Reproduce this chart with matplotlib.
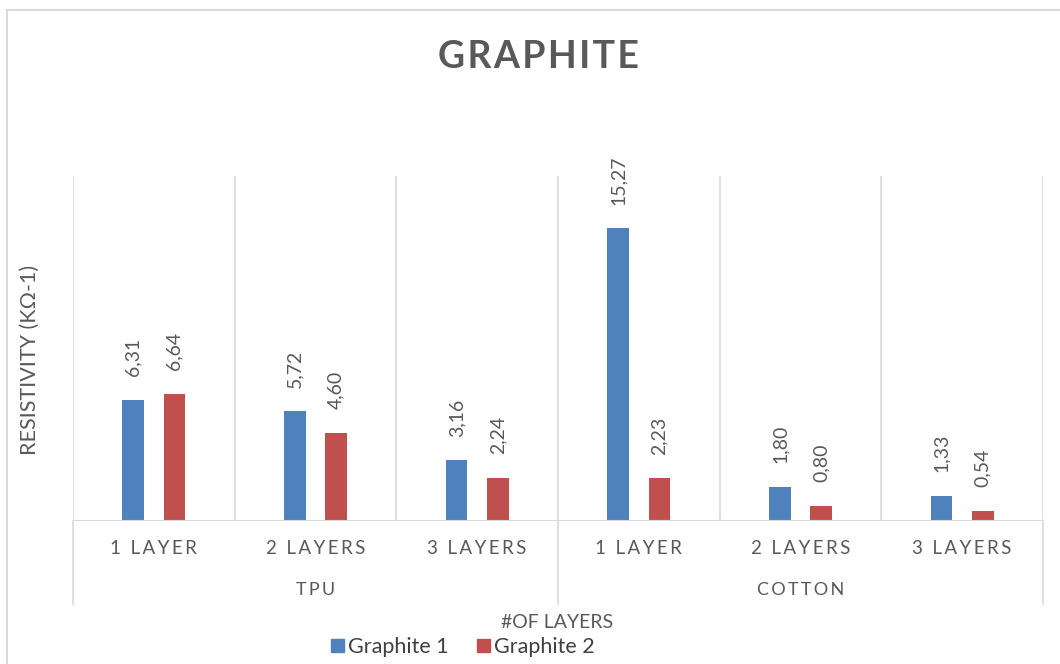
import matplotlib.pyplot as plt
import matplotlib.transforms as mtransforms
from matplotlib.lines import Line2D
from matplotlib.patches import Patch, Rectangle

plt.rcParams['font.family'] = ['Lato', 'DejaVu Sans']

# data
layers = ['1 LAYER', '2 LAYERS', '3 LAYERS', '1 LAYER', '2 LAYERS', '3 LAYERS']
groups = ['TPU', 'COTTON']
graphite1 = [6.31, 5.72, 3.16, 15.27, 1.80, 1.33]
graphite2 = [6.64, 4.60, 2.24, 2.23, 0.80, 0.54]
series_names = ['Graphite 1', 'Graphite 2']

BLUE = '#4F81BD'
RED = '#C0504D'
GRID = '#D9D9D9'
TXT = '#595959'
W, H = 1060, 664


def spaced(s, sep='\u200a'):
    return sep.join(s)


def fy(py):
    return 1 - py / H


fig = plt.figure(figsize=(W / 100, H / 100), dpi=100)
ax = fig.add_axes([73 / W, fy(521), (1043 - 73) / W, (521 - 176) / H])

x = [i + 0.5 for i in range(len(layers))]
bw = 0.134
off = 0.127
b1 = ax.bar([v - off for v in x], graphite1, bw, color=BLUE, label=series_names[0])
b2 = ax.bar([v + off for v in x], graphite2, bw, color=RED, label=series_names[1])

for bars, vals in ((b1, graphite1), (b2, graphite2)):
    for b, v in zip(bars, vals):
        ax.annotate(f'{v:.2f}'.replace('.', ','), (b.get_x() + b.get_width() / 2, v),
                    xytext=(0, 17), textcoords='offset points', rotation=90,
                    ha='center', va='bottom', fontsize=14, color=TXT)

ax.set_xlim(0, len(layers))
ax.set_ylim(0, 18)
ax.set_xticks([])
ax.set_yticks([])
for s in ax.spines.values():
    s.set_visible(False)

# vertical grid between categories + baseline
for i in range(len(layers) + 1):
    ax.axvline(i, color=GRID, lw=1.2, zorder=0)
ax.axhline(0, color=GRID, lw=1.5, zorder=3)

# two-level category axis below the plot
tr = mtransforms.blended_transform_factory(ax.transData, fig.transFigure)
for xi, lab in zip(x, layers):
    fig.text(xi, fy(548), spaced(lab, '\u2009'), transform=tr, ha='center', va='center',
             fontsize=13.5, color=TXT)
for gi, g in enumerate(groups):
    fig.text(gi * 3 + 1.5, fy(590), spaced(g, '\u2009'), transform=tr, ha='center',
             va='center', fontsize=13, color=TXT)
for xi in (0, 3, 6):
    fig.add_artist(Line2D([xi, xi], [fy(521), fy(604)], transform=tr, color=GRID, lw=1.2))

fig.text(538 / W, fy(57), spaced('GRAPHITE'), ha='center', va='center',
         fontsize=27, fontweight='bold', color=TXT)
fig.text(30 / W, fy(360), 'RESISTIVITY (KΩ-1)', rotation=90, ha='center', va='center',
         fontsize=15.5, color=TXT)
fig.text(557 / W, fy(623), '#OF LAYERS', ha='center', va='center', fontsize=14, color=TXT)

handles = [Patch(color=BLUE), Patch(color=RED)]
leg = fig.legend(handles, series_names, loc='center', bbox_to_anchor=(463 / W, fy(647)),
                 ncol=2, frameon=False, fontsize=15.5, handlelength=0.6, handleheight=0.6,
                 handletextpad=0.2, columnspacing=1.3, borderpad=0)
for t in leg.get_texts():
    t.set_color('#404040')

# chart border
fig.add_artist(Rectangle((7 / W, -0.05), 1.1, fy(10) + 0.05, transform=fig.transFigure,
                         fill=False, edgecolor=GRID, lw=1.5))

fig.savefig('out.png', dpi=100)
